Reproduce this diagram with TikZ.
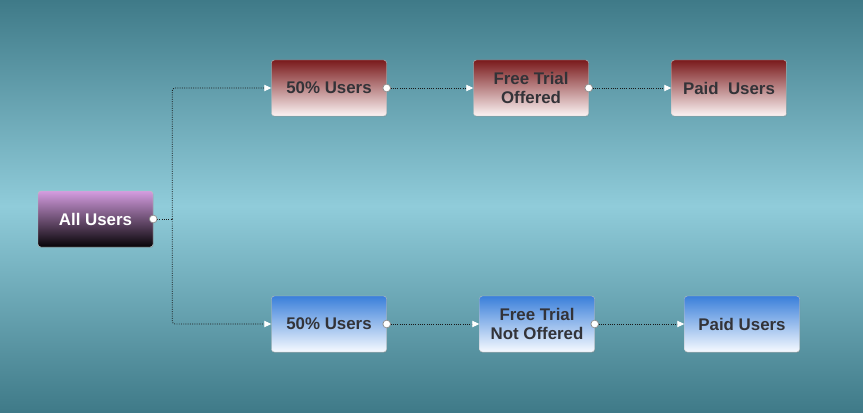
\documentclass[tikz,border=0pt]{standalone}
\usepackage{fontspec}
\setmainfont{Liberation Sans}
\usetikzlibrary{positioning,arrows.meta,shadows}

\definecolor{bgdark}{HTML}{3F7A88}
\definecolor{bglight}{HTML}{90CCDA}
\definecolor{redtop}{HTML}{7A1A1C}
\definecolor{redbot}{HTML}{FCF4F4}
\definecolor{bluetop}{HTML}{3A7FDA}
\definecolor{bluebot}{HTML}{F6FAFF}
\definecolor{purptop}{HTML}{D49CE0}
\definecolor{purpbot}{HTML}{060306}
\definecolor{txtgray}{HTML}{333338}

\begin{document}
\begin{tikzpicture}[on grid,
    port/.tip={Circle[fill=white, color=black!45, length=6pt, line width=0.5pt]},
    head/.tip={Triangle[fill=white, color=white, length=5pt, width=4.5pt]},
    box/.style={rectangle, rounded corners=2pt, draw=black!25, line width=0.3pt,
      minimum width=2.875cm, minimum height=1.4cm, align=center,
      font=\bfseries\fontsize{12}{13}\selectfont, text=txtgray,
      drop shadow={opacity=0.25, shadow xshift=0.5pt, shadow yshift=-0.7pt}},
    redbox/.style={box, top color=redtop, bottom color=redbot},
    bluebox/.style={box, top color=bluetop, bottom color=bluebot},
    rootbox/.style={box, top color=purptop, bottom color=purpbot, text=white},
    wire/.style={densely dotted, line width=0.6pt, draw=black!90},
    link/.style={wire, shorten <=-3pt, port-head},
    branch/.style={wire, rounded corners=2pt, -head}]

  % background
  \shade[top color=bgdark, bottom color=bgdark, middle color=bglight]
    (0,0) rectangle (21.575,10.3);
  \useasboundingbox (0,0) rectangle (21.575,10.3);

  \node[rootbox] (all) at (2.3875,4.825) {All Users};

  % offered branch
  \node[redbox] (half_a) at (8.225,8.1) {50\% Users};
  \node[redbox] (trial_a) [right=5.05cm of half_a] {Free Trial\\Offered};
  \node[redbox] (paid_a) [right=4.95cm of trial_a] {Paid\ \ Users};

  % not offered branch
  \node[bluebox] (half_b) at (8.225,2.2) {50\% Users};
  \node[bluebox] (trial_b) [right=5.2cm of half_b] {Free Trial\\Not Offered};
  \node[bluebox] (paid_b) [right=5.125cm of trial_b] {Paid Users};

  \coordinate (split) at ([xshift=0.475cm]all.east);

  \draw[wire, shorten <=-3pt, port-] (all.east) -- (split);
  \draw[branch] (split) |- (half_a.west);
  \draw[branch] (split) |- (half_b.west);

  \draw[link] (half_a) -- (trial_a);
  \draw[link] (trial_a) -- (paid_a);
  \draw[link] (half_b) -- (trial_b);
  \draw[link] (trial_b) -- (paid_b);

\end{tikzpicture}
\end{document}
